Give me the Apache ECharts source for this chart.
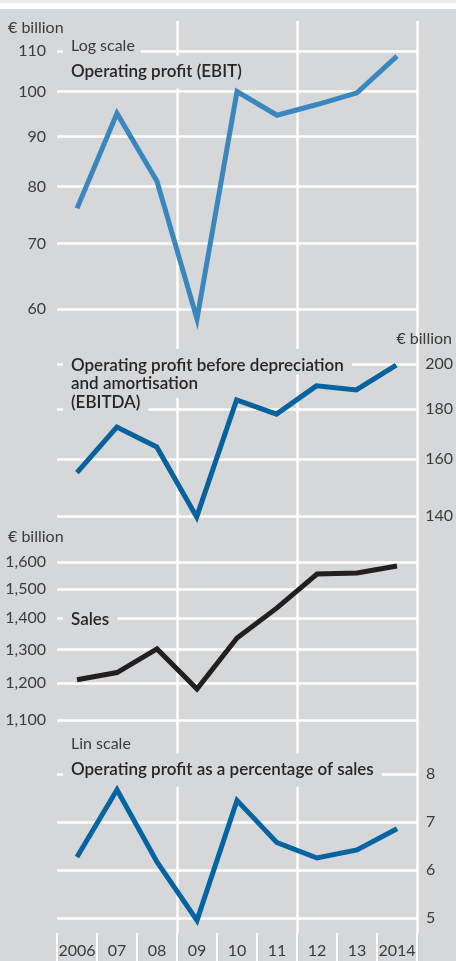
<!DOCTYPE html>
<html>
<head>
<meta charset="utf-8">
<script src="https://cdn.jsdelivr.net/npm/echarts@6/dist/echarts.min.js"></script>
<style>
  html, body { margin: 0; padding: 0; background: #d6d7d9; }
  #chart { width: 456px; height: 961px; }
</style>
</head>
<body>
<div id="chart"></div>
<script>
// years on the shared x axis
const years = ["2006", "07", "08", "09", "10", "11", "12", "13", "2014"];

// € billion, log scale
const ebit   = [76, 95, 81, 58.6, 100, 94.6, 97, 99.7, 108.7];
const ebitda = [155, 172.5, 164.6, 139.7, 183.8, 177.8, 190, 188.2, 199.5];
const sales  = [1210, 1231, 1302, 1184, 1336, 1435, 1555, 1559, 1585];
// % of sales, lin scale
const margin = [6.27, 7.67, 6.17, 4.95, 7.45, 6.57, 6.25, 6.42, 6.86];

const ebitTicks   = [60, 70, 80, 90, 100, 110];
const ebitdaTicks = [140, 160, 180, 200];
const salesTicks  = [1100, 1200, 1300, 1400, 1500, 1600];
const marginTicks = [5, 6, 7, 8];

const FONT = "Lato";
const TXT = "#3b3b3b";
const BG = "#d6d7d9";
const GRID_LINE = { color: "#ffffff", width: 2.5 };

const ln = v => Math.log(v);
const fmt = v => Math.round(v).toLocaleString("en-US");

const el = document.getElementById("chart");
const chart = echarts.init(el);

const X0 = 57, W = 360;
const panels = [
  { top: 51,  height: 258, ticks: ebitTicks,   pos: "left",  log: true },
  { top: 364, height: 152, ticks: ebitdaTicks, pos: "right", log: true },
  { top: 562, height: 158, ticks: salesTicks,  pos: "left",  log: true },
  { top: 774, height: 144, ticks: marginTicks, pos: "right", log: false }
];

const grid = [{ left: X0, width: W, top: 21, height: 912 }]
  .concat(panels.map(p => ({ left: X0, width: W, top: p.top, height: p.height })));

const xAxis = [{
  type: "category",
  gridIndex: 0,
  data: years,
  boundaryGap: true,
  axisLine: { show: false },
  axisTick: { show: true, interval: 0, length: 28, lineStyle: { color: "#fff", width: 2 } },
  axisLabel: { interval: 0, margin: 10, fontFamily: FONT, fontSize: 16, color: TXT },
  splitLine: {
    show: true,
    interval: (i) => i === 3 || i === 6,
    lineStyle: GRID_LINE
  }
}].concat(panels.map((p, i) => ({
  type: "category",
  gridIndex: i + 1,
  data: years,
  boundaryGap: true,
  show: false
})));

const yAxis = [{ type: "value", gridIndex: 0, min: 0, max: 1, show: false }]
  .concat(panels.map((p, i) => {
    const vals = p.log ? p.ticks.map(ln) : p.ticks;
    return {
      type: "value",
      gridIndex: i + 1,
      position: p.pos,
      min: vals[0],
      max: vals[vals.length - 1],
      axisLine: { show: false },
      axisTick: { show: false, customValues: vals },
      axisLabel: {
        customValues: vals,
        margin: p.pos === "left" ? 11 : 9,
        fontFamily: FONT, fontSize: 16, color: TXT,
        formatter: v => p.log ? fmt(Math.exp(v)) : fmt(v)
      },
      splitLine: { show: true, lineStyle: GRID_LINE }
    };
  }));

function lineSeries(idx, values, color, log) {
  return {
    type: "line",
    xAxisIndex: idx,
    yAxisIndex: idx,
    data: log ? values.map(ln) : values,
    symbol: "none",
    clip: false,
    z: 100,
    lineStyle: { color: color, width: 5, join: "miter", cap: "butt" },
    emphasis: { disabled: true }
  };
}

// free text; titles get a grey box that hides the white grid lines behind them
function label(x, y, text, opts) {
  opts = opts || {};
  return {
    type: "text",
    x: x, y: y, z: opts.z || 50,
    style: {
      text: text,
      fontFamily: FONT,
      fontSize: opts.bold ? 17 : 16,
      fontWeight: opts.bold ? 600 : "normal",
      fill: opts.bold ? "#262626" : TXT,
      align: opts.align || "left",
      verticalAlign: opts.va || "middle",
      lineHeight: opts.lh,
      backgroundColor: opts.box ? BG : null,
      padding: opts.box ? opts.pad || [8, 8] : 0
    }
  };
}

const option = {
  backgroundColor: BG,
  animation: false,
  grid: grid,
  xAxis: xAxis,
  yAxis: yAxis,
  series: [
    lineSeries(1, ebit, "#3a87bf", true),
    lineSeries(2, ebitda, "#00629f", true),
    lineSeries(3, sales, "#231f20", true),
    lineSeries(4, margin, "#0064a3", false)
  ],
  graphic: [
    { type: "rect", shape: { x: 0, y: 0, width: 456, height: 3 }, style: { fill: "#ebebed" } },
    { type: "rect", shape: { x: 0, y: 3, width: 456, height: 6 }, style: { fill: "#ffffff" } },

    label(8, 28, "€ billion"),
    label(63, 46, "Log scale", { box: true, pad: [2, 6, 2, 8] }),
    label(63, 72, "Operating profit (EBIT)", { bold: true, box: true }),

    label(63, 349, "Operating profit before depreciation",
      { bold: true, box: true, va: "top", lh: 18.5, pad: [7, 8, 0, 8], z: 50 }),
    label(63, 374.5, "and amortisation",
      { bold: true, box: true, va: "top", lh: 18.5, pad: [0, 8, 5, 8], z: 51 }),
    label(63, 393, "(EBITDA)",
      { bold: true, box: true, va: "top", lh: 18.5, pad: [0, 8, 8, 8], z: 52 }),
    label(452, 339, "€ billion", { align: "right" }),

    label(8, 537, "€ billion"),
    label(63, 620, "Sales", { bold: true, box: true }),

    label(71, 744, "Lin scale"),
    label(63, 770, "Operating profit as a percentage of sales", { bold: true, box: true })
  ]
};

chart.setOption(option);
window.addEventListener("resize", () => chart.resize());
</script>
</body>
</html>
